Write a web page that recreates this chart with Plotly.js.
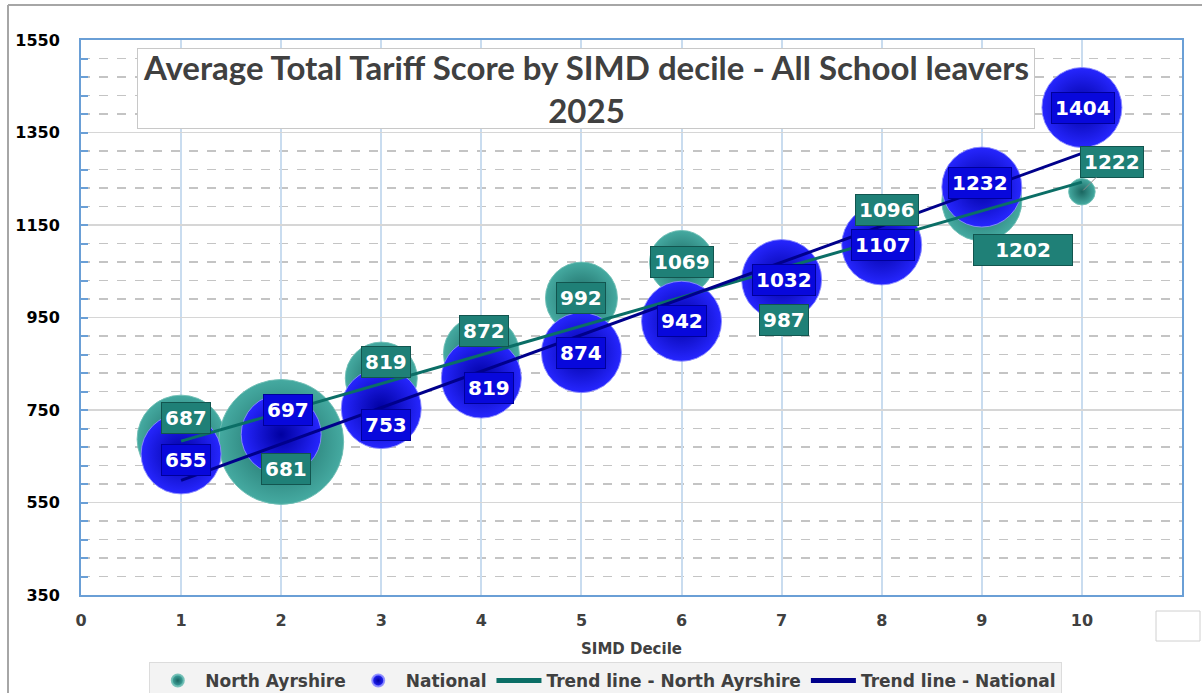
<!DOCTYPE html>
<html>
<head>
<meta charset="utf-8">
<script src="https://cdn.plot.ly/plotly-3.0.1.min.js"></script>
<style>
  html, body { margin: 0; padding: 0; background: #ffffff; }
  #chart { width: 1202px; height: 693px; }
</style>
</head>
<body>
<div id="chart"></div>
<script>
// ---- Data ----
const deciles = [1, 2, 3, 4, 5, 6, 7, 8, 9, 10];
const northAyrshire = [687, 681, 819, 872, 992, 1069, 987, 1096, 1202, 1222];
const national = [655, 697, 753, 819, 874, 942, 1032, 1107, 1232, 1404];
// relative bubble weights (area)
const naBubble = [121, 244, 81, 90, 81, 64, 33, 56, 100, 11];
const natBubble = [100, 100, 100, 100, 100, 100, 100, 100, 100, 100];
const xTicks = [0, 1, 2, 3, 4, 5, 6, 7, 8, 9, 10];
const seriesNames = ['North Ayrshire', 'National', 'Trend line - North Ayrshire', 'Trend line - National'];
const chartTitle = 'Average Total Tariff Score by SIMD decile - All School leavers<br>2025';
const xTitle = 'SIMD Decile';

// ---- label placement (pixel offsets) ----
const naShiftX = [5, 5, 5, 3, 0, 0, 2, 5, 41, 0];
const naShiftY = [21, -27, 16, 23, 0, 0, -20, 40, -49, 0];
const natShiftX = [5, 7, 5, 8, 0, 0, 2, 1, -2, 1];
const natShiftY = [-6, 25, -16, -10, 0, 0, 0, 0, 4, 0];

// least-squares trend line through a series
function trend(xs, ys) {
  const n = xs.length;
  const mx = xs.reduce((a, b) => a + b, 0) / n;
  const my = ys.reduce((a, b) => a + b, 0) / n;
  let sxy = 0, sxx = 0;
  for (let i = 0; i < n; i++) { sxy += (xs[i] - mx) * (ys[i] - my); sxx += (xs[i] - mx) ** 2; }
  const b = sxy / sxx, a = my - b * mx;
  const x0 = xs[0], x1 = xs[n - 1];
  return { x: [x0, x1], y: [a + b * x0, a + b * x1] };
}
const naTrend = trend(deciles, northAyrshire);
const natTrend = trend(deciles, national);

const TEAL = '#45aaa1', TEAL_DARK = '#1a6660', TEAL_LABEL = '#1f8077';
const BLUE = '#2626ff', BLUE_DARK = '#0000a0', BLUE_LABEL = '#0808dc';

const traces = [
  {
    type: 'scatter', mode: 'markers', name: seriesNames[0],
    x: deciles, y: northAyrshire,
    marker: {
      size: naBubble, sizemode: 'area', sizeref: 0.03125, opacity: 1,
      color: TEAL, gradient: { type: 'radial', color: TEAL_DARK },
      line: { color: 'rgba(110,190,180,0.9)', width: 1 }
    },
    hoverinfo: 'x+y'
  },
  {
    type: 'scatter', mode: 'markers', name: seriesNames[1],
    x: deciles, y: national,
    marker: {
      size: natBubble, sizemode: 'area', sizeref: 0.03125, opacity: 1,
      color: BLUE, gradient: { type: 'radial', color: BLUE_DARK },
      line: { color: 'rgba(140,140,255,0.9)', width: 1 }
    },
    hoverinfo: 'x+y'
  },
  {
    type: 'scatter', mode: 'lines', name: seriesNames[2],
    x: naTrend.x, y: naTrend.y,
    line: { color: '#0b6e66', width: 3 }
  },
  {
    type: 'scatter', mode: 'lines', name: seriesNames[3],
    x: natTrend.x, y: natTrend.y,
    line: { color: '#00008b', width: 3 }
  }
];

const labelFont = { family: 'DejaVu Sans, Verdana, sans-serif', size: 20, color: '#ffffff', weight: 'bold' };
const annotations = [];
deciles.forEach((d, i) => {
  const isLast = i === deciles.length - 1;
  const a = {
    x: d, y: northAyrshire[i], xref: 'x', yref: 'y',
    text: String(northAyrshire[i]),
    font: labelFont, bgcolor: TEAL_LABEL, bordercolor: '#12554f', borderwidth: 1, borderpad: 3
  };
  if (isLast) {
    Object.assign(a, { showarrow: true, arrowhead: 0, arrowwidth: 1, arrowcolor: '#8a8a8a', ax: 30, ay: -30, standoff: 2 });
  } else {
    Object.assign(a, { showarrow: false, xshift: naShiftX[i], yshift: naShiftY[i] });
  }
  if (i === 8) { a.width = 92; }
  annotations.push(a);
});
deciles.forEach((d, i) => {
  annotations.push({
    x: d, y: national[i], xref: 'x', yref: 'y', showarrow: false,
    text: String(national[i]), xshift: natShiftX[i], yshift: natShiftY[i],
    font: labelFont, bgcolor: BLUE_LABEL, bordercolor: '#00009a', borderwidth: 1, borderpad: 3
  });
});
// chart title box
annotations.push({
  xref: 'paper', yref: 'paper', x: 0.4587, y: 0.9126, xanchor: 'center', yanchor: 'middle',
  showarrow: false, text: chartTitle, align: 'center',
  width: 892, height: 75, bgcolor: '#ffffff', bordercolor: '#c8c8c8', borderwidth: 1, borderpad: 2,
  font: { family: 'Lato, Carlito, sans-serif', size: 33, color: '#404040', weight: 'bold' }
});

// pixel -> paper helpers for frame decorations
const L = 81, R = 20, T = 40, B = 98, W = 1202, H = 693;
const pw = W - L - R, ph = H - T - B;
const px = v => (v - L) / pw;
const py = v => (H - B - v) / ph;

const layout = {
  width: W, height: H,
  margin: { l: L, r: R, t: T, b: B, pad: 0, autoexpand: false },
  paper_bgcolor: '#ffffff', plot_bgcolor: '#ffffff',
  showlegend: true,
  xaxis: {
    range: [0, 11], tickvals: xTicks, ticktext: xTicks.map(String),
    showgrid: true, gridcolor: '#c9dcef', gridwidth: 2,
    zeroline: false, showline: true, linecolor: '#6a9fd6', linewidth: 2, mirror: true,
    ticks: '', ticklabelstandoff: 10,
    tickfont: { family: 'DejaVu Sans, Verdana, sans-serif', size: 16, color: '#404040', weight: 'bold' },
    title: { text: xTitle, standoff: 14, font: { family: 'DejaVu Sans, sans-serif', size: 15, color: '#404040', weight: 'bold' } }
  },
  yaxis: {
    range: [350, 1550], tick0: 350, dtick: 200,
    showgrid: true, gridcolor: '#d6d6d6', gridwidth: 1.5,
    minor: { dtick: 40, tick0: 350, showgrid: true, gridcolor: '#c4c4c4', griddash: 'dash', gridwidth: 1.5, ticks: 'inside', ticklen: 7, tickcolor: '#6a9fd6', tickwidth: 2 },
    zeroline: false, showline: true, linecolor: '#6a9fd6', linewidth: 2, mirror: true,
    ticks: 'inside', ticklen: 7, tickcolor: '#6a9fd6', tickwidth: 2,
    ticklabelstandoff: 16,
    tickfont: { family: 'DejaVu Sans, Verdana, sans-serif', size: 16, color: '#000000', weight: 'bold' }
  },
  legend: {
    orientation: 'h', xref: 'container', yref: 'container',
    x: 0.504, xanchor: 'center', y: 1 - 662 / 693, yanchor: 'top',
    bgcolor: '#f3f3f3', bordercolor: '#dcdcdc', borderwidth: 1,
    font: { family: 'DejaVu Sans, Verdana, sans-serif', size: 17, color: '#404040', weight: 'bold' },
    itemsizing: 'constant', itemwidth: 45, traceorder: 'normal'
  },
  shapes: [
    { type: 'line', xref: 'paper', yref: 'paper', x0: px(8), x1: px(1202), y0: py(5), y1: py(5), line: { color: '#a6a6a6', width: 2 } },
    { type: 'line', xref: 'paper', yref: 'paper', x0: px(8), x1: px(8), y0: py(5), y1: py(693), line: { color: '#a6a6a6', width: 2 } },
    { type: 'rect', xref: 'paper', yref: 'paper', x0: px(1156), x1: px(1200), y0: py(611), y1: py(641), line: { color: '#d0d0d0', width: 1 }, fillcolor: '#ffffff' }
  ],
  annotations: annotations,
  hovermode: 'closest'
};

Plotly.newPlot('chart', traces, layout, { displayModeBar: false, staticPlot: true });
</script>
</body>
</html>
